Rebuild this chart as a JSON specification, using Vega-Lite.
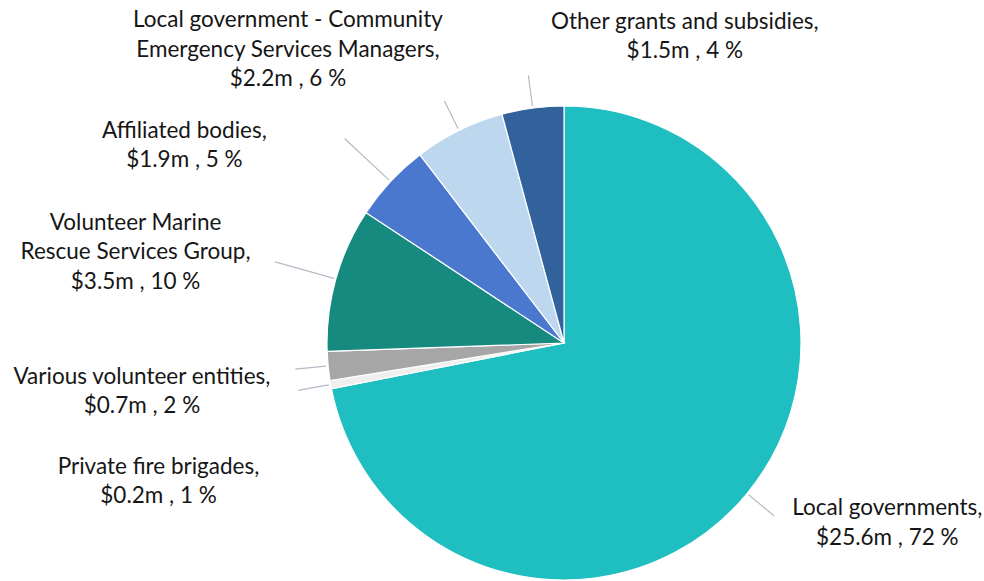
{
  "$schema": "https://vega.github.io/schema/vega-lite/v6.json",
  "width": 840,
  "height": 476,
  "autosize": "none",
  "padding": {"left": 144, "top": 105, "right": 0, "bottom": 0},
  "background": "white",
  "config": {"view": {"stroke": null}, "text": {"font": "Lato", "fontSize": 22.5, "lineHeight": 29.5, "color": "#161616"}},
  "data": {
    "values": [
      {"order": 1, "name": "Local governments", "value": 25.6, "label": "Local governments,\n$25.6m , 72 %"},
      {"order": 2, "name": "Private fire brigades", "value": 0.2, "label": "Private fire brigades,\n$0.2m , 1 %"},
      {"order": 3, "name": "Various volunteer entities", "value": 0.7, "label": "Various volunteer entities,\n$0.7m , 2 %"},
      {"order": 4, "name": "Volunteer Marine Rescue Services Group", "value": 3.5, "label": "Volunteer Marine\nRescue Services Group,\n$3.5m , 10 %"},
      {"order": 5, "name": "Affiliated bodies", "value": 1.9, "label": "Affiliated bodies,\n$1.9m , 5 %"},
      {"order": 6, "name": "Local government - Community Emergency Services Managers", "value": 2.2, "label": "Local government - Community\nEmergency Services Managers,\n$2.2m , 6 %"},
      {"order": 7, "name": "Other grants and subsidies", "value": 1.5, "label": "Other grants and subsidies,\n$1.5m , 4 %"}
    ]
  },
  "layer": [
    {
      "mark": {"type": "arc", "radius": 237, "stroke": "white", "strokeWidth": 1.2},
      "encoding": {
        "theta": {"field": "value", "type": "quantitative", "stack": true},
        "order": {"field": "order", "type": "quantitative"},
        "color": {
          "field": "name",
          "type": "nominal",
          "scale": {
            "domain": ["Local governments", "Private fire brigades", "Various volunteer entities", "Volunteer Marine Rescue Services Group", "Affiliated bodies", "Local government - Community Emergency Services Managers", "Other grants and subsidies"],
            "range": ["#1FBEC0", "#EFEFEF", "#A6A6A6", "#178A80", "#4A78CF", "#BDD7EE", "#32629C"]
          },
          "legend": null
        }
      }
    },
    {
      "mark": {"type": "arc", "radius": 270, "radius2": 239, "padAngle": 3.1, "fillOpacity": 0, "stroke": "#B4BAC6", "strokeWidth": 1.2},
      "encoding": {
        "theta": {"field": "value", "type": "quantitative", "stack": true},
        "order": {"field": "order", "type": "quantitative"},
        "strokeOpacity": {
          "condition": {"test": "indexof(['Other grants and subsidies', 'Local government - Community Emergency Services Managers', 'Private fire brigades', 'Various volunteer entities'], datum.name) >= 0", "value": 1},
          "value": 0
        }
      }
    },
    {
      "mark": {"type": "arc", "radius": 300, "radius2": 239, "padAngle": 3.1, "fillOpacity": 0, "stroke": "#B4BAC6", "strokeWidth": 1.2},
      "encoding": {
        "theta": {"field": "value", "type": "quantitative", "stack": true},
        "order": {"field": "order", "type": "quantitative"},
        "strokeOpacity": {
          "condition": {"test": "indexof(['Affiliated bodies', 'Volunteer Marine Rescue Services Group'], datum.name) >= 0", "value": 1},
          "value": 0
        }
      }
    },
    {
      "transform": [{"filter": "datum.name === 'Local governments'"}],
      "mark": {"type": "arc", "radius": 272, "radius2": 239, "fillOpacity": 0, "stroke": "#B4BAC6", "strokeWidth": 1.2},
      "encoding": {
        "theta": {"value": 2.2591},
        "theta2": {"value": 2.2591}
      }
    },
    {
      "mark": {"type": "text", "radius": 350, "dx": 53, "dy": -68, "align": "center", "baseline": "top", "lineBreak": "\n"},
      "encoding": {
        "theta": {"field": "value", "type": "quantitative", "stack": true},
        "order": {"field": "order", "type": "quantitative"},
        "text": {"condition": {"test": "datum.name === 'Local governments'", "field": "label"}, "value": ""}
      }
    },
    {
      "mark": {"type": "text", "radius": 420, "dx": 8, "dy": 39, "align": "center", "baseline": "top", "lineBreak": "\n"},
      "encoding": {
        "theta": {"field": "value", "type": "quantitative", "stack": true},
        "order": {"field": "order", "type": "quantitative"},
        "text": {"condition": {"test": "datum.name === 'Private fire brigades'", "field": "label"}, "value": ""}
      }
    },
    {
      "mark": {"type": "text", "radius": 420, "dx": -4, "dy": -18, "align": "center", "baseline": "top", "lineBreak": "\n"},
      "encoding": {
        "theta": {"field": "value", "type": "quantitative", "stack": true},
        "order": {"field": "order", "type": "quantitative"},
        "text": {"condition": {"test": "datum.name === 'Various volunteer entities'", "field": "label"}, "value": ""}
      }
    },
    {
      "mark": {"type": "text", "radius": 445, "dx": 0, "dy": -11, "align": "center", "baseline": "top", "lineBreak": "\n"},
      "encoding": {
        "theta": {"field": "value", "type": "quantitative", "stack": true},
        "order": {"field": "order", "type": "quantitative"},
        "text": {"condition": {"test": "datum.name === 'Volunteer Marine Rescue Services Group'", "field": "label"}, "value": ""}
      }
    },
    {
      "mark": {"type": "text", "radius": 430, "dx": -65, "dy": 70, "align": "center", "baseline": "top", "lineBreak": "\n"},
      "encoding": {
        "theta": {"field": "value", "type": "quantitative", "stack": true},
        "order": {"field": "order", "type": "quantitative"},
        "text": {"condition": {"test": "datum.name === 'Affiliated bodies'", "field": "label"}, "value": ""}
      }
    },
    {
      "mark": {"type": "text", "radius": 420, "dx": -90, "dy": 43, "align": "center", "baseline": "top", "lineBreak": "\n"},
      "encoding": {
        "theta": {"field": "value", "type": "quantitative", "stack": true},
        "order": {"field": "order", "type": "quantitative"},
        "text": {"condition": {"test": "datum.name === 'Local government - Community Emergency Services Managers'", "field": "label"}, "value": ""}
      }
    },
    {
      "mark": {"type": "text", "radius": 312, "dx": 162, "dy": -23, "align": "center", "baseline": "top", "lineBreak": "\n"},
      "encoding": {
        "theta": {"field": "value", "type": "quantitative", "stack": true},
        "order": {"field": "order", "type": "quantitative"},
        "text": {"condition": {"test": "datum.name === 'Other grants and subsidies'", "field": "label"}, "value": ""}
      }
    }
  ]
}
